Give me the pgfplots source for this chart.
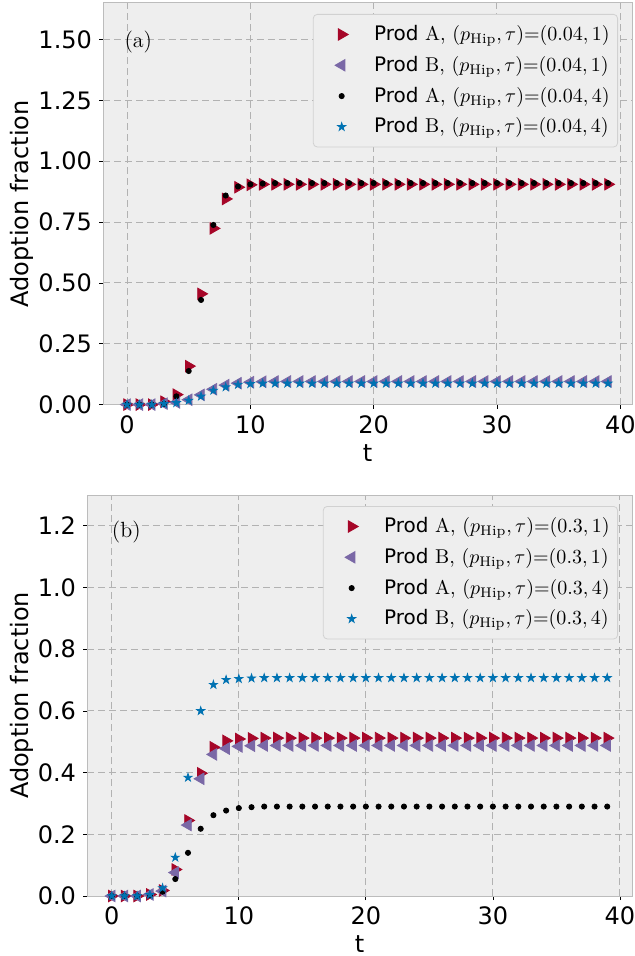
\documentclass[border=0pt]{standalone}
\usepackage{fontspec}
\usepackage{pgfplots}
\pgfplotsset{compat=1.18}
\newfontfamily\djv{DejaVu Sans}

\definecolor{bgc}{HTML}{EEEEEE}
\definecolor{gridc}{HTML}{B2B2B2}
\definecolor{edgec}{HTML}{BCBCBC}
\definecolor{cred}{HTML}{A60628}
\definecolor{cpur}{HTML}{7A68A6}
\definecolor{cblu}{HTML}{0072B2}

% filled five-point star
\pgfdeclareplotmark{fstar}{%
  \pgfpathmoveto{\pgfpointpolar{90}{\pgfplotmarksize}}%
  \pgfpathlineto{\pgfpointpolar{126}{0.382\pgfplotmarksize}}%
  \pgfpathlineto{\pgfpointpolar{162}{\pgfplotmarksize}}%
  \pgfpathlineto{\pgfpointpolar{198}{0.382\pgfplotmarksize}}%
  \pgfpathlineto{\pgfpointpolar{234}{\pgfplotmarksize}}%
  \pgfpathlineto{\pgfpointpolar{270}{0.382\pgfplotmarksize}}%
  \pgfpathlineto{\pgfpointpolar{306}{\pgfplotmarksize}}%
  \pgfpathlineto{\pgfpointpolar{342}{0.382\pgfplotmarksize}}%
  \pgfpathlineto{\pgfpointpolar{18}{\pgfplotmarksize}}%
  \pgfpathlineto{\pgfpointpolar{54}{0.382\pgfplotmarksize}}%
  \pgfpathclose\pgfusepathqfillstroke}

% panel (a): p_Hip = 0.04
\pgfplotstableread{
t A1 B1 A4 B4
0 0 0 0 0
1 0 0 0 0
2 0 0 0 0
3 0.012 0.004 0.003 0.003
4 0.041 0.009 0.034 0.007
5 0.158 0.020 0.138 0.017
6 0.455 0.040 0.430 0.034
7 0.724 0.063 0.738 0.058
8 0.845 0.080 0.859 0.072
9 0.893 0.088 0.896 0.082
10 0.903 0.092 0.905 0.085
11 0.905 0.094 0.908 0.087
12 0.905 0.095 0.910 0.087
13 0.905 0.095 0.910 0.087
14 0.905 0.095 0.910 0.087
15 0.905 0.095 0.910 0.087
16 0.905 0.095 0.910 0.087
17 0.905 0.095 0.910 0.087
18 0.905 0.095 0.910 0.087
19 0.905 0.095 0.910 0.087
20 0.905 0.095 0.910 0.087
21 0.905 0.095 0.910 0.087
22 0.905 0.095 0.910 0.087
23 0.905 0.095 0.910 0.087
24 0.905 0.095 0.910 0.087
25 0.905 0.095 0.910 0.087
26 0.905 0.095 0.910 0.087
27 0.905 0.095 0.910 0.087
28 0.905 0.095 0.910 0.087
29 0.905 0.095 0.910 0.087
30 0.905 0.095 0.910 0.087
31 0.905 0.095 0.910 0.087
32 0.905 0.095 0.910 0.087
33 0.905 0.095 0.910 0.087
34 0.905 0.095 0.910 0.087
35 0.905 0.095 0.910 0.087
36 0.905 0.095 0.910 0.087
37 0.905 0.095 0.910 0.087
38 0.905 0.095 0.910 0.087
39 0.905 0.095 0.910 0.087
}\dataA

% panel (b): p_Hip = 0.3
\pgfplotstableread{
t A1 B1 A4 B4
0 0 0 0 0
1 0 0 0 0
2 0 0 0 0
3 0.005 0.005 0.002 0.004
4 0.018 0.016 0.014 0.026
5 0.086 0.076 0.055 0.125
6 0.245 0.230 0.140 0.384
7 0.398 0.380 0.218 0.600
8 0.482 0.459 0.262 0.685
9 0.503 0.478 0.277 0.701
10 0.509 0.485 0.285 0.704
11 0.511 0.487 0.288 0.706
12 0.512 0.488 0.290 0.707
13 0.512 0.488 0.290 0.707
14 0.512 0.488 0.290 0.707
15 0.512 0.488 0.290 0.707
16 0.512 0.488 0.290 0.707
17 0.512 0.488 0.290 0.707
18 0.512 0.488 0.290 0.707
19 0.512 0.488 0.290 0.707
20 0.512 0.488 0.290 0.707
21 0.512 0.488 0.290 0.707
22 0.512 0.488 0.290 0.707
23 0.512 0.488 0.290 0.707
24 0.512 0.488 0.290 0.707
25 0.512 0.488 0.290 0.707
26 0.512 0.488 0.290 0.707
27 0.512 0.488 0.290 0.707
28 0.512 0.488 0.290 0.707
29 0.512 0.488 0.290 0.707
30 0.512 0.488 0.290 0.707
31 0.512 0.488 0.290 0.707
32 0.512 0.488 0.290 0.707
33 0.512 0.488 0.290 0.707
34 0.512 0.488 0.290 0.707
35 0.512 0.488 0.290 0.707
36 0.512 0.488 0.290 0.707
37 0.512 0.488 0.290 0.707
38 0.512 0.488 0.290 0.707
39 0.512 0.488 0.290 0.707
}\dataB

\pgfplotsset{
  panel/.style={
    scale only axis,
    clip=false,
    axis background/.style={fill=bgc},
    axis line style={edgec, line width=0.5pt},
    grid=major,
    major grid style={gridc, dash pattern=on 3.5pt off 2pt, line width=0.5pt},
    xmin=-1.95, xmax=40.95, ymin=0,
    xtick={0,10,20,30,40},
    xtick pos=bottom, ytick pos=left,
    tick align=outside, major tick length=2pt,
    tick style={black, line width=0.4pt},
    /pgf/number format/assume math mode=true,
    tick label style={font=\djv\fontsize{12}{14}\selectfont},
    label style={font=\djv\fontsize{12}{14}\selectfont},
    xlabel={t},
    ylabel={Adoption fraction},
    xlabel style={at={(axis description cs:0.5,0)}, anchor=center, yshift=-24pt},
    legend cell align=left,
    legend style={at={(1,1)}, anchor=north east, xshift=-7pt, yshift=-5.5pt,
      draw=black!18, fill=bgc, rounded corners=2pt,
      font=\fontsize{10}{12}\selectfont,
      inner xsep=2pt, inner ysep=3.5pt, row sep=2.3pt},
    legend image code/.code={\path (0pt,0pt) (26pt,0pt);
      \draw[##1] plot coordinates {(12pt,0pt)};},
  },
  sA/.style={only marks, mark=triangle*, mark size=3.3pt, cred, mark options={rotate=-90}},
  sB/.style={only marks, mark=triangle*, mark size=3.3pt, cpur, mark options={rotate=90}},
  sC/.style={only marks, mark=*, mark size=1.3pt, black},
  sD/.style={only marks, mark=fstar, mark size=2.1pt, cblu},
}

\begin{document}
\begin{tikzpicture}
\useasboundingbox (0,0) rectangle (317pt,-478pt);

\begin{axis}[panel,
  at={(316pt,-1.5pt)}, anchor=north east,
  width=264.5pt, height=200.8pt,
  ymax=1.65,
  ytick={0,0.25,0.5,0.75,1,1.25,1.5},
  yticklabel style={/pgf/number format/.cd, fixed, fixed zerofill, precision=2},
  ylabel style={at={(axis description cs:-0.153,0.5)}, anchor=center},
]
\addplot[sA] table[x=t, y=A1] {\dataA};
\addlegendentry{{\djv Prod} $\mathrm{A}$, $(p_{\mathrm{Hip}},\tau){=}(0.04,1)$}
\addplot[sB] table[x=t, y=B1] {\dataA};
\addlegendentry{{\djv Prod} $\mathrm{B}$, $(p_{\mathrm{Hip}},\tau){=}(0.04,1)$}
\addplot[sC] table[x=t, y=A4] {\dataA};
\addlegendentry{{\djv Prod} $\mathrm{A}$, $(p_{\mathrm{Hip}},\tau){=}(0.04,4)$}
\addplot[sD] table[x=t, y=B4] {\dataA};
\addlegendentry{{\djv Prod} $\mathrm{B}$, $(p_{\mathrm{Hip}},\tau){=}(0.04,4)$}
\node[anchor=west, inner sep=0pt, font=\fontsize{11}{13}\selectfont] at (rel axis cs:0.04,0.903) {(a)};
\end{axis}

\begin{axis}[panel,
  at={(316pt,-247.5pt)}, anchor=north east,
  width=272.5pt, height=200.5pt,
  ymax=1.3,
  ytick={0,0.2,0.4,0.6,0.8,1.0,1.2},
  yticklabel style={/pgf/number format/.cd, fixed, fixed zerofill, precision=1},
  ylabel style={at={(axis description cs:-0.119,0.5)}, anchor=center},
]
\addplot[sA] table[x=t, y=A1] {\dataB};
\addlegendentry{{\djv Prod} $\mathrm{A}$, $(p_{\mathrm{Hip}},\tau){=}(0.3,1)$}
\addplot[sB] table[x=t, y=B1] {\dataB};
\addlegendentry{{\djv Prod} $\mathrm{B}$, $(p_{\mathrm{Hip}},\tau){=}(0.3,1)$}
\addplot[sC] table[x=t, y=A4] {\dataB};
\addlegendentry{{\djv Prod} $\mathrm{A}$, $(p_{\mathrm{Hip}},\tau){=}(0.3,4)$}
\addplot[sD] table[x=t, y=B4] {\dataB};
\addlegendentry{{\djv Prod} $\mathrm{B}$, $(p_{\mathrm{Hip}},\tau){=}(0.3,4)$}
\node[anchor=west, inner sep=0pt, font=\fontsize{11}{13}\selectfont] at (rel axis cs:0.045,0.908) {(b)};
\end{axis}
\end{tikzpicture}
\end{document}
